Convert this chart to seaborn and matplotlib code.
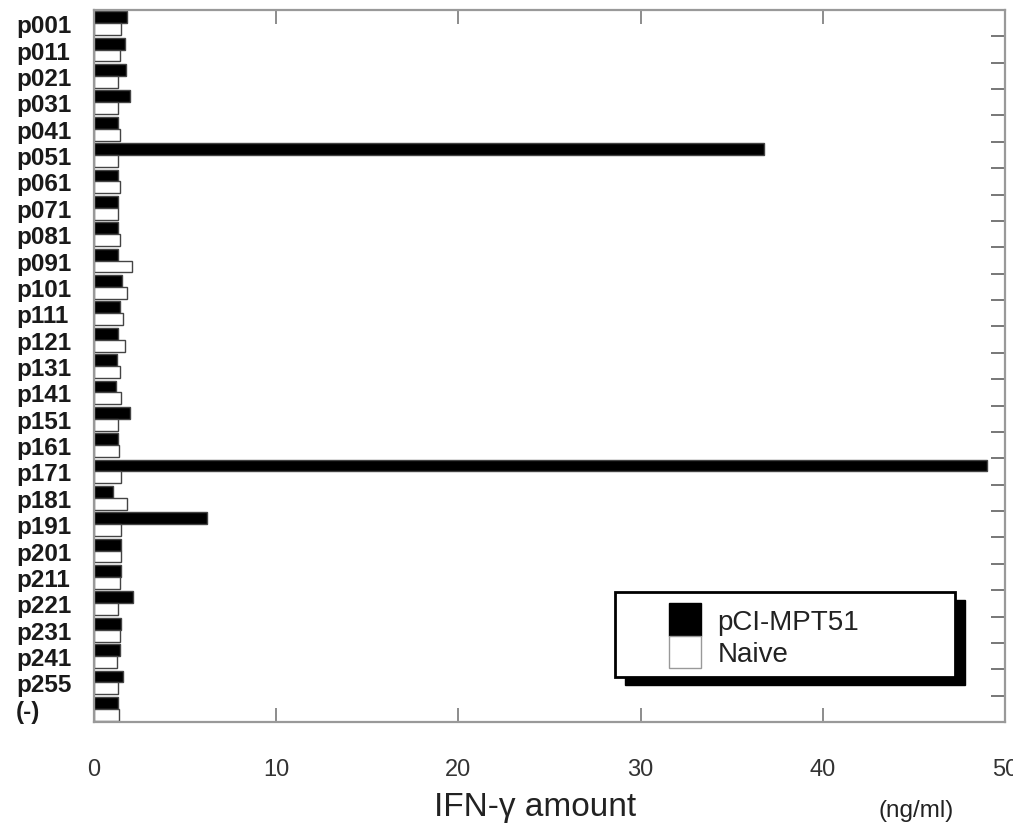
import numpy as np
import pandas as pd
import matplotlib
matplotlib.use("Agg")
import matplotlib.pyplot as plt
from matplotlib.patches import Rectangle, Patch
import seaborn as sns

# peptides on the y axis, top to bottom
peptides = ["p001", "p011", "p021", "p031", "p041", "p051", "p061", "p071", "p081",
            "p091", "p101", "p111", "p121", "p131", "p141", "p151", "p161", "p171",
            "p181", "p191", "p201", "p211", "p221", "p231", "p241", "p255", "(-)"]

# IFN-gamma (ng/ml)
mpt51 = [1.8, 1.7, 1.75, 2.0, 1.3, 36.8, 1.3, 1.3, 1.3,
         1.3, 1.55, 1.4, 1.3, 1.25, 1.2, 2.0, 1.3, 49.0,
         1.05, 6.2, 1.5, 1.5, 2.15, 1.5, 1.4, 1.6, 1.3]
naive = [1.5, 1.4, 1.3, 1.3, 1.4, 1.3, 1.4, 1.3, 1.4,
         2.1, 1.8, 1.6, 1.7, 1.4, 1.5, 1.3, 1.35, 1.5,
         1.8, 1.5, 1.5, 1.4, 1.3, 1.4, 1.25, 1.3, 1.35]

groups = ["pCI-MPT51", "Naive"]
x_ticks = [0, 10, 20, 30, 40, 50]

df = pd.DataFrame({
    "peptide": peptides * 2,
    "group": [groups[0]] * len(peptides) + [groups[1]] * len(peptides),
    "ifn": mpt51 + naive,
})

sns.set_style("ticks")
plt.rcParams["font.family"] = ["Liberation Sans", "DejaVu Sans"]

fig = plt.figure(figsize=(10.13, 8.28), dpi=100)
ax = fig.add_axes([0.0928, 0.1268, 0.8993, 0.8599])

sns.barplot(data=df, y="peptide", x="ifn", hue="group", orient="h",
            palette={"pCI-MPT51": "black", "Naive": "white"},
            width=0.9, edgecolor="#444444", linewidth=1.0, legend=False, ax=ax)

ax.set_xlim(0, 50)
ax.set_ylim(len(peptides) - 0.5, -0.5)
ax.set_xticks(x_ticks)
ax.set_ylabel("")
ax.set_xlabel("")

for s in ax.spines.values():
    s.set_visible(True)
    s.set_color("#999999")
    s.set_linewidth(1.6)

ax.tick_params(axis="x", direction="in", top=True, length=10, width=1.4,
               color="#8c8c8c", pad=26, labelsize=17, labelcolor="#333333")
ax.set_yticks(np.arange(-0.5, len(peptides), 1), minor=True)
ax.tick_params(axis="y", which="major", length=0, pad=56, labelsize=17.5)
ax.tick_params(axis="y", which="minor", left=False, right=True, direction="in",
               length=10, width=1.4, color="#777777")
for lab in ax.get_yticklabels():
    lab.set_ha("left")
    lab.set_fontweight("bold")
    lab.set_color("#1a1a1a")

# axis titles
ax.text(0.484, -0.118, "IFN-γ amount", transform=ax.transAxes, ha="center",
        va="center", fontsize=24, color="#222222")
fig.text(0.904, 0.020, "(ng/ml)", ha="center", va="center", fontsize=17.5,
         color="#222222")

# legend box with a hard black shadow
ax.add_patch(Rectangle((0.5829, 0.0520), 0.3732, 0.1194, transform=ax.transAxes,
                       facecolor="black", edgecolor="black", zorder=3, clip_on=False))
ax.add_patch(Rectangle((0.5719, 0.0632), 0.3732, 0.1194, transform=ax.transAxes,
                       facecolor="white", edgecolor="black", linewidth=2, zorder=4,
                       clip_on=False))
handles = [Patch(facecolor="black", edgecolor="black"),
           Patch(facecolor="white", edgecolor="#999999")]
leg = ax.legend(handles, groups, loc="upper left", bbox_to_anchor=(0.616, 0.1860),
                frameon=False, borderpad=0, labelspacing=0, handlelength=1.15,
                handleheight=1.4, handletextpad=0.6, fontsize=20)
leg.set_zorder(5)
for t in leg.get_texts():
    t.set_color("#222222")

fig.savefig("out.png", dpi=100)
